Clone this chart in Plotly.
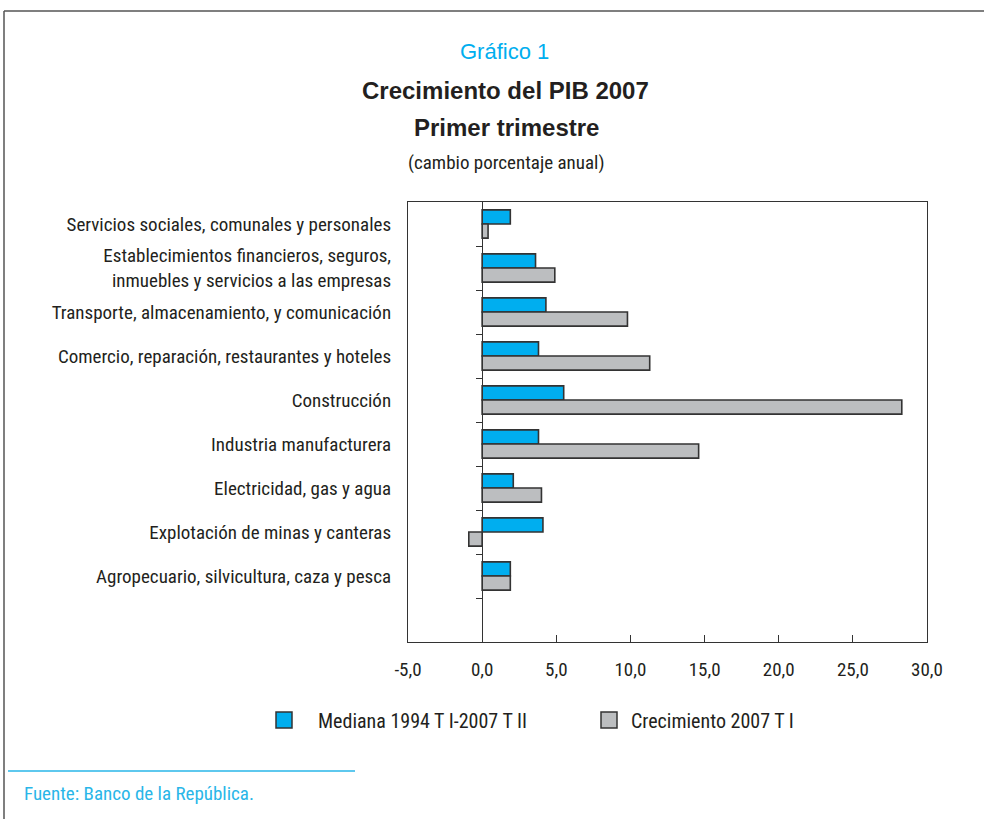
import plotly.graph_objects as go

# Sectors, listed top to bottom
sectores = [
    "Servicios sociales, comunales y personales",
    "Establecimientos financieros, seguros,<br>inmuebles y servicios a las empresas",
    "Transporte, almacenamiento, y comunicación",
    "Comercio, reparación, restaurantes y hoteles",
    "Construcción",
    "Industria manufacturera",
    "Electricidad, gas y agua",
    "Explotación de minas y canteras",
    "Agropecuario, silvicultura, caza y pesca",
]
mediana = [1.9, 3.6, 4.3, 3.8, 5.5, 3.8, 2.1, 4.1, 1.9]
crecimiento = [0.4, 4.9, 9.8, 11.3, 28.3, 14.6, 4.0, -0.9, 1.9]
serie_nombres = ["Mediana 1994 T I-2007 T II", "Crecimiento 2007 T I"]
x_ticks = [-5, 0, 5, 10, 15, 20, 25, 30]
x_tick_text = [f"{v:.1f}".replace(".", ",") for v in x_ticks]

W, H = 984, 819
AZUL = "#00AEEF"
GRIS = "#BCBEC0"
BORDE = "#333333"
TEXTO = "#231F20"
CELESTE = "#29B6E8"
NARROW = "Liberation Sans Narrow, Arial Narrow, Roboto Condensed, sans-serif"
SANS = "Liberation Sans, Arial, Helvetica, sans-serif"

# plot-area box in pixels
px_l, px_r, px_t, px_b = 408, 927, 202, 642
dom_x = [px_l / W, px_r / W]
dom_y = [1 - px_b / H, 1 - px_t / H]

pos = list(range(len(sectores)))
n_slots = len(sectores) + 1  # one empty slot under the last sector
y_range = [n_slots - 0.5, -0.5]
x_range = [x_ticks[0], x_ticks[-1]]

colores = [AZUL, GRIS]
valores = [mediana, crecimiento]
leyendas = ["legend", "legend2"]

fig = go.Figure()
for nombre, vals, col in zip(serie_nombres, valores, colores):
    fig.add_trace(go.Bar(
        y=pos, x=vals, orientation="h", name=nombre, showlegend=False,
        marker=dict(color=col, line=dict(color=BORDE, width=1.6)),
    ))
# legend keys: square swatches in each series colour
for nombre, col, leg in zip(serie_nombres, colores, leyendas):
    fig.add_trace(go.Scatter(
        x=[None], y=[None], mode="markers", name=nombre, legend=leg, hoverinfo="skip",
        marker=dict(symbol="square", size=16, color=col, line=dict(color=BORDE, width=1.5)),
    ))
# helper trace so the second y axis (zero line + slot ticks) is drawn
fig.add_trace(go.Scatter(x=[None], y=[None], yaxis="y2", showlegend=False, hoverinfo="skip"))

zero_frac = dom_x[0] + (dom_x[1] - dom_x[0]) * (0 - x_range[0]) / (x_range[1] - x_range[0])

leg_common = dict(
    orientation="h", yanchor="middle", xanchor="left", itemsizing="trace",
    font=dict(family=NARROW, size=20, color=TEXTO),
    bgcolor="rgba(0,0,0,0)", borderwidth=0,
)

fig.update_layout(
    width=W, height=H, autosize=False,
    margin=dict(l=0, r=0, t=0, b=0, autoexpand=False),
    paper_bgcolor="white", plot_bgcolor="white",
    separators=",.",
    barmode="group", bargap=0.36, bargroupgap=0,
    font=dict(family=NARROW, size=19, color=TEXTO),
    showlegend=True,
    legend=dict(x=250 / W, y=1 - 720 / H, itemwidth=58, **leg_common),
    legend2=dict(x=587 / W, y=1 - 720 / H, itemwidth=34, **leg_common),
    xaxis=dict(
        domain=dom_x, range=x_range, tickvals=x_ticks, ticktext=x_tick_text,
        ticks="inside", ticklen=7, tickcolor=BORDE, tickwidth=1.2,
        showline=True, linecolor=BORDE, linewidth=1.2, mirror=True,
        showgrid=False, zeroline=False, ticklabelstandoff=10, automargin=False,
        tickfont=dict(family=NARROW, size=19, color=TEXTO),
    ),
    yaxis=dict(
        domain=dom_y, range=y_range, tickvals=pos, ticktext=sectores,
        ticks="", showline=True, linecolor=BORDE, linewidth=1.2, mirror=True,
        showgrid=False, zeroline=False, ticklabelstandoff=12, automargin=False,
        tickfont=dict(family=NARROW, size=19, color=TEXTO),
    ),
    yaxis2=dict(
        domain=dom_y, range=y_range, overlaying="y", anchor="free", position=zero_frac,
        tickvals=[p + 0.5 for p in range(n_slots - 1)], showticklabels=False,
        ticks="outside", ticklen=6, tickcolor=BORDE, tickwidth=1.2, automargin=False,
        showline=True, linecolor=BORDE, linewidth=1.2, showgrid=False, zeroline=False,
    ),
)

# outer frame and footer rule
fig.add_shape(type="line", xref="paper", yref="paper", x0=4 / W, x1=1, y0=1 - 11 / H, y1=1 - 11 / H,
              line=dict(color="#555555", width=1.5))
fig.add_shape(type="line", xref="paper", yref="paper", x0=4 / W, x1=4 / W, y0=0, y1=1 - 11 / H,
              line=dict(color="#555555", width=1.5))
fig.add_shape(type="line", xref="paper", yref="paper", x0=8 / W, x1=355 / W, y0=1 - 771 / H, y1=1 - 771 / H,
              line=dict(color=CELESTE, width=1.5))

def texto(t, x, y, size, family, color=TEXTO, xanchor="center"):
    fig.add_annotation(text=t, x=x / W, y=1 - y / H, xref="paper", yref="paper", showarrow=False,
                       xanchor=xanchor, yanchor="middle", font=dict(family=family, size=size, color=color))

texto("Gráfico 1", 504, 51, 22, SANS, color=AZUL)
texto("<b>Crecimiento del PIB 2007</b>", 505, 90, 24, SANS)
texto("<b>Primer trimestre</b>", 506, 127, 24, SANS)
texto("(cambio porcentaje anual)", 506, 163, 19, NARROW)
texto("Fuente: Banco de la República.", 22, 793, 19, NARROW, color=CELESTE, xanchor="left")

fig.write_html("out.html")
